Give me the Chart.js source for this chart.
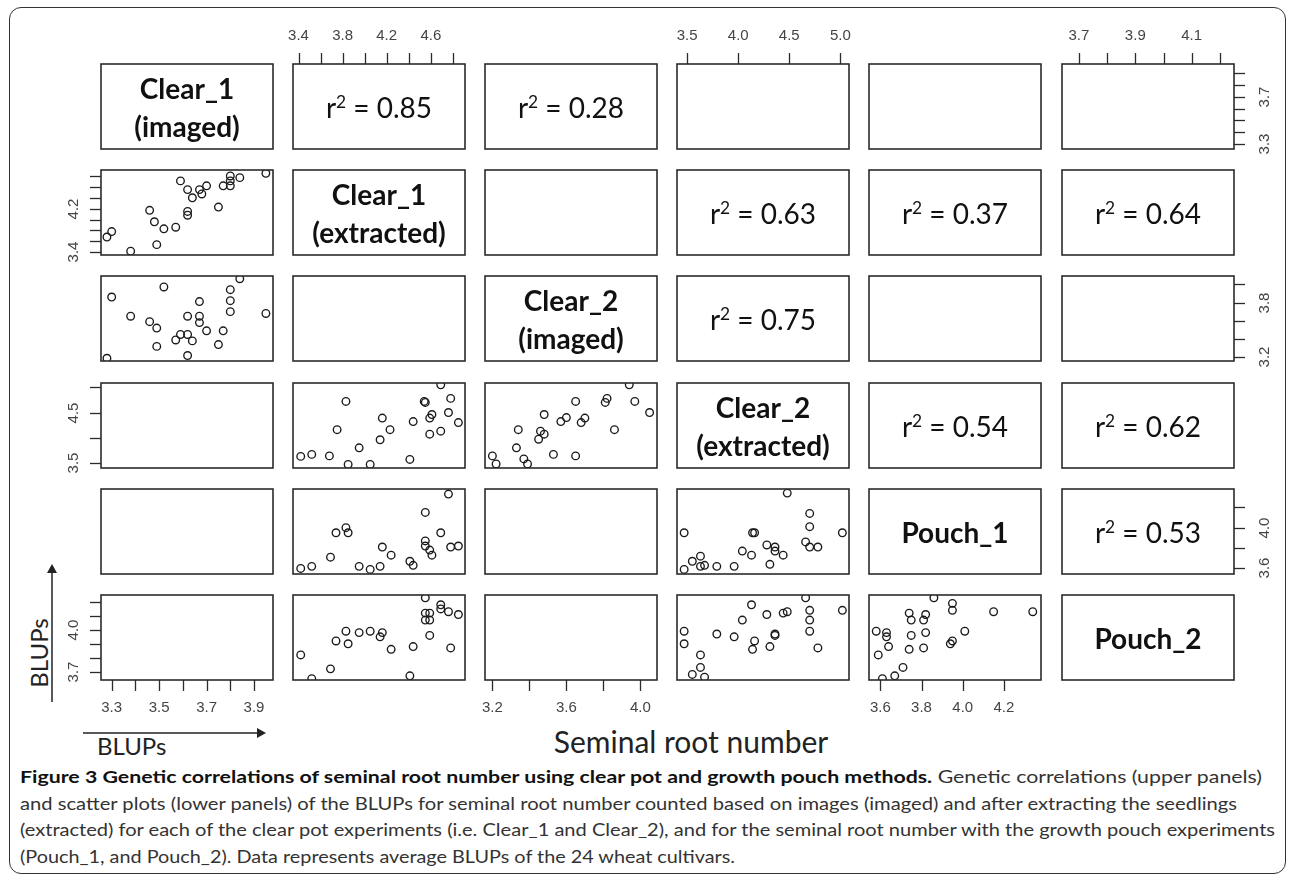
<!DOCTYPE html>
<html>
<head>
<meta charset="utf-8">
<script src="https://cdn.jsdelivr.net/npm/chart.js@4.4.1/dist/chart.umd.min.js"></script>
<style>
  body { margin: 0; background: #fff; }
  #fig { position: relative; width: 1295px; height: 880px; overflow: hidden; font-family: Lato, "Open Sans", sans-serif; }
  .frame { position: absolute; left: 9px; top: 7px; width: 1277px; height: 867px; border: 1.5px solid #333; border-radius: 12px; box-sizing: border-box; }
  canvas { position: absolute; }
  .cell { position: absolute; display: flex; align-items: center; justify-content: center; text-align: center; color: #111; }
  .diag { font-weight: 700; font-size: 28px; line-height: 38px; }
  .r2 { font-size: 28px; }
  .r2 sup { font-size: 0.62em; vertical-align: 0.6em; line-height: 0; }
  .tick { position: absolute; font-family: "Liberation Sans", Arial, sans-serif; font-size: 15px; color: #444; white-space: nowrap; }
  .title { position: absolute; color: #222; white-space: nowrap; }
  .cap { position: absolute; left: 20px; font-size: 17px; color: #333; white-space: nowrap; transform-origin: 0 50%; }
  .cap b { color: #111; }
</style>
</head>
<body>
<div id="fig">
  <div class="frame"></div>
  <svg width="1295" height="880" style="position:absolute;left:0;top:0">
    <line x1="83" y1="733" x2="259" y2="733" stroke="#222" stroke-width="1.5"/>
    <polygon points="266,733 257,728 257,738" fill="#222"/>
    <line x1="52" y1="702" x2="52" y2="572" stroke="#222" stroke-width="1.5"/>
    <polygon points="52,564 47,573 57,573" fill="#222"/>
  </svg>
  <div class="title" style="left:97px;top:731px;font-size:24px">BLUPs</div>
  <div class="title" style="left:38px;top:653px;font-size:24px;transform:translate(-50%,-50%) rotate(-90deg)">BLUPs</div>
  <div class="title" style="left:691px;top:741px;font-size:30px;transform:translate(-50%,-50%)">Seminal root number</div>
  <div class="cap" style="top:766px"><b>Figure 3 Genetic correlations of seminal root number using clear pot and growth pouch methods.</b> Genetic correlations (upper panels)</div>
  <div class="cap" style="top:793px">and scatter plots (lower panels) of the BLUPs for seminal root number counted based on images (imaged) and after extracting the seedlings</div>
  <div class="cap" style="top:819px">(extracted) for each of the clear pot experiments (i.e. Clear_1 and Clear_2), and for the seminal root number with the growth pouch experiments</div>
  <div class="cap" style="top:846px">(Pouch_1, and Pouch_2). Data represents average BLUPs of the 24 wheat cultivars.</div>
</div>
<script>
// variables of the pairs plot
const diagLabels = [["Clear_1", "(imaged)"], ["Clear_1", "(extracted)"], ["Clear_2", "(imaged)"], ["Clear_2", "(extracted)"], ["Pouch_1"], ["Pouch_2"]];
const axisMin = [3.255, 3.35, 3.16, 3.40, 3.545, 3.64];
const axisMax = [3.98, 4.91, 4.09, 5.085, 4.38, 4.25];
const tickValues = [
  [3.3, 3.4, 3.5, 3.6, 3.7, 3.8, 3.9],
  [3.4, 3.6, 3.8, 4.0, 4.2, 4.4, 4.6, 4.8],
  [3.2, 3.4, 3.6, 3.8, 4.0],
  [3.5, 4.0, 4.5, 5.0],
  [3.6, 3.8, 4.0, 4.2],
  [3.7, 3.8, 3.9, 4.0, 4.1, 4.2]
];
const horizLabels = [[3.3, 3.5, 3.7, 3.9], [3.4, 3.8, 4.2, 4.6], [3.2, 3.6, 4.0], [3.5, 4.0, 4.5, 5.0], [3.6, 3.8, 4.0, 4.2], [3.7, 3.9, 4.1]];
const vertLabels = [[3.3, 3.7], [3.4, 4.2], [3.2, 3.8], [3.5, 4.5], [3.6, 4.0], [3.7, 4.0]];

// genetic correlations, upper panels ("row,col")
const r2Values = { "0,1": "0.85", "0,2": "0.28", "1,3": "0.63", "1,4": "0.37", "1,5": "0.64", "2,3": "0.75", "3,4": "0.54", "3,5": "0.62", "4,5": "0.53" };

// scatter points [x, y], lower panels
const c1ExtVsC1Img = [[3.28,3.68],[3.30,3.78],[3.38,3.42],[3.46,4.17],[3.48,3.96],[3.49,3.54],[3.52,3.83],[3.57,3.86],[3.59,4.71],[3.62,4.55],[3.62,4.15],[3.62,4.08],[3.64,4.40],[3.67,4.55],[3.68,4.47],[3.70,4.62],[3.75,4.23],[3.77,4.62],[3.80,4.80],[3.80,4.71],[3.80,4.62],[3.84,4.77],[3.95,4.85]];
const c2ImgVsC1Img = [[3.28,3.19],[3.30,3.86],[3.38,3.65],[3.46,3.59],[3.49,3.52],[3.49,3.32],[3.52,3.97],[3.57,3.39],[3.59,3.45],[3.62,3.65],[3.62,3.45],[3.62,3.22],[3.64,3.38],[3.67,3.81],[3.67,3.65],[3.67,3.58],[3.70,3.49],[3.75,3.34],[3.77,3.49],[3.80,3.94],[3.80,3.82],[3.80,3.70],[3.84,4.06],[3.95,3.68]];
const c2ExtVsC1Ext = [[3.42,3.63],[3.52,3.67],[3.68,3.64],[3.85,3.47],[4.05,3.47],[3.95,3.80],[3.75,4.16],[3.83,4.72],[4.14,3.96],[4.16,4.39],[4.23,4.16],[4.41,3.57],[4.44,4.32],[4.54,4.72],[4.55,4.70],[4.59,4.07],[4.61,4.46],[4.59,4.39],[4.69,5.05],[4.69,4.13],[4.76,4.50],[4.78,4.78],[4.85,4.30]];
const c2ExtVsC2Img = [[3.20,3.64],[3.22,3.48],[3.33,3.80],[3.34,4.16],[3.37,3.58],[3.39,3.48],[3.45,3.97],[3.46,4.13],[3.48,4.07],[3.48,4.46],[3.53,3.67],[3.57,4.32],[3.60,4.40],[3.65,4.72],[3.65,3.64],[3.68,4.30],[3.70,4.39],[3.81,4.70],[3.82,4.78],[3.86,4.16],[3.94,5.05],[3.97,4.72],[4.05,4.50]];
const p1VsC1Ext = [[3.42,3.60],[3.52,3.62],[3.69,3.71],[3.74,3.95],[3.83,4.00],[3.85,3.95],[3.95,3.62],[4.05,3.59],[4.14,3.62],[4.16,3.81],[4.24,3.73],[4.41,3.67],[4.44,3.63],[4.55,4.15],[4.55,3.87],[4.55,3.82],[4.59,3.78],[4.61,3.73],[4.69,3.95],[4.76,4.33],[4.78,3.81],[4.85,3.82]];
const p1VsC2Ext = [[3.47,3.95],[3.47,3.59],[3.55,3.67],[3.63,3.72],[3.63,3.62],[3.67,3.63],[3.79,3.62],[3.96,3.62],[4.04,3.77],[4.13,3.73],[4.14,3.95],[4.16,3.95],[4.28,3.83],[4.31,3.64],[4.36,3.81],[4.36,3.77],[4.44,3.73],[4.48,4.34],[4.66,3.86],[4.70,4.14],[4.70,4.01],[4.70,3.81],[4.78,3.81],[5.02,3.95]];
const p2VsC1Ext = [[3.42,3.82],[3.52,3.65],[3.69,3.72],[3.74,3.92],[3.85,3.90],[3.83,3.99],[3.95,3.98],[4.05,3.99],[4.14,3.95],[4.16,3.98],[4.24,3.86],[4.41,3.67],[4.44,3.88],[4.55,4.23],[4.55,4.12],[4.55,4.07],[4.59,4.07],[4.59,4.12],[4.59,3.96],[4.69,4.18],[4.69,4.15],[4.76,4.13],[4.78,3.87],[4.85,4.11]];
const p2VsC2Ext = [[3.47,3.99],[3.47,3.90],[3.55,3.68],[3.63,3.82],[3.63,3.73],[3.67,3.66],[3.79,3.97],[3.96,3.95],[4.04,4.07],[4.13,4.18],[4.14,3.86],[4.16,3.92],[4.28,4.11],[4.31,3.88],[4.36,3.97],[4.36,3.96],[4.44,4.12],[4.48,4.13],[4.66,4.23],[4.70,4.14],[4.70,4.07],[4.70,3.99],[4.78,3.87],[5.02,4.14]];
const p2VsP1 = [[3.58,3.99],[3.59,3.82],[3.61,3.65],[3.63,3.98],[3.63,3.95],[3.64,3.88],[3.67,3.67],[3.71,3.73],[3.74,4.12],[3.74,3.86],[3.75,4.07],[3.75,3.96],[3.81,3.87],[3.81,4.07],[3.82,3.98],[3.82,4.11],[3.86,4.23],[3.94,3.90],[3.95,3.92],[3.95,4.19],[3.95,4.14],[4.01,3.99],[4.15,4.13],[4.34,4.13]];

const scatterPanels = {
  "1,0": c1ExtVsC1Img, "2,0": c2ImgVsC1Img,
  "3,1": c2ExtVsC1Ext, "3,2": c2ExtVsC2Img,
  "4,1": p1VsC1Ext, "4,3": p1VsC2Ext,
  "5,1": p2VsC1Ext, "5,3": p2VsC2Ext, "5,4": p2VsP1
};

// panel layout
const colLeft = [101, 293, 485, 677, 869, 1062];
const rowTop = [64, 170, 276, 383, 489, 595];
const PW = 172, PH = 85, M = 40, TICK = 11;

const fig = document.getElementById("fig");

const panelBox = {
  id: "panelBox",
  afterDraw(chart, args, opts) {
    const { ctx, chartArea: a } = chart;
    ctx.save();
    ctx.strokeStyle = "#2b2b2b";
    ctx.lineWidth = 1.6;
    ctx.strokeRect(a.left, a.top, a.right - a.left, a.bottom - a.top);
    ctx.lineWidth = 1.3;
    (opts.axes || []).forEach((ax) => {
      const horiz = ax.side === "top" || ax.side === "bottom";
      const scale = horiz ? chart.scales.x : chart.scales.y;
      ax.values.forEach((v) => {
        const p = Math.round(scale.getPixelForValue(v)) + 0.5;
        ctx.beginPath();
        if (ax.side === "top") { ctx.moveTo(p, a.top); ctx.lineTo(p, a.top - TICK); }
        if (ax.side === "bottom") { ctx.moveTo(p, a.bottom); ctx.lineTo(p, a.bottom + TICK); }
        if (ax.side === "left") { ctx.moveTo(a.left, p); ctx.lineTo(a.left - TICK, p); }
        if (ax.side === "right") { ctx.moveTo(a.right, p); ctx.lineTo(a.right + TICK, p); }
        ctx.stroke();
      });
    });
    ctx.restore();
  },
};

function addLabel(text, x, y, vertical) {
  const d = document.createElement("div");
  d.className = "tick";
  d.textContent = text;
  d.style.left = x + "px";
  d.style.top = y + "px";
  d.style.transform = vertical ? "translate(-50%,-50%) rotate(-90deg)" : "translate(-50%,-50%)";
  fig.appendChild(d);
}

for (let r = 0; r < 6; r++) {
  for (let c = 0; c < 6; c++) {
    const x0 = colLeft[c], y0 = rowTop[r];
    const axes = [];
    if (r === 0 && c % 2 === 1) axes.push({ side: "top", values: tickValues[c], labels: horizLabels[c] });
    if (r === 5 && c % 2 === 0) axes.push({ side: "bottom", values: tickValues[c], labels: horizLabels[c] });
    if (c === 0 && r % 2 === 1) axes.push({ side: "left", values: tickValues[r], labels: vertLabels[r] });
    if (c === 5 && r % 2 === 0) axes.push({ side: "right", values: tickValues[r], labels: vertLabels[r] });

    const cv = document.createElement("canvas");
    cv.width = PW + 2 * M;
    cv.height = PH + 2 * M;
    cv.style.left = x0 - M + "px";
    cv.style.top = y0 - M + "px";
    fig.appendChild(cv);

    const pts = scatterPanels[r + "," + c] || [];
    const chart = new Chart(cv, {
      type: "scatter",
      data: {
        datasets: [{
          data: pts.map((p) => ({ x: p[0], y: p[1] })),
          pointStyle: "circle",
          pointRadius: 3.8,
          borderWidth: 1.35,
          borderColor: "#1a1a1a",
          backgroundColor: "rgba(0,0,0,0)",
          clip: 0,
        }],
      },
      options: {
        responsive: false,
        animation: false,
        events: [],
        layout: { padding: M },
        plugins: { legend: { display: false }, tooltip: { enabled: false }, panelBox: { axes } },
        scales: {
          x: { type: "linear", display: false, min: axisMin[c], max: axisMax[c] },
          y: { type: "linear", display: false, min: axisMin[r], max: axisMax[r] },
        },
      },
      plugins: [panelBox],
    });

    axes.forEach((ax) => {
      ax.labels.forEach((v) => {
        const t = v.toFixed(1);
        if (ax.side === "top") addLabel(t, x0 - M + chart.scales.x.getPixelForValue(v), y0 - 30, false);
        if (ax.side === "bottom") addLabel(t, x0 - M + chart.scales.x.getPixelForValue(v), y0 + PH + 26, false);
        if (ax.side === "left") addLabel(t, x0 - 29, y0 - M + chart.scales.y.getPixelForValue(v), true);
        if (ax.side === "right") addLabel(t, x0 + PW + 29, y0 - M + chart.scales.y.getPixelForValue(v), true);
      });
    });

    const key = r + "," + c;
    if (r === c || r2Values[key]) {
      const cell = document.createElement("div");
      cell.className = "cell " + (r === c ? "diag" : "r2");
      cell.style.left = x0 + "px";
      cell.style.top = y0 + "px";
      cell.style.width = PW + "px";
      cell.style.height = PH + "px";
      if (r === c) cell.innerHTML = "<span>" + diagLabels[r].join("<br>") + "</span>";
      else cell.innerHTML = "<span>r<sup>2</sup> = " + r2Values[key] + "</span>";
      fig.appendChild(cell);
    }
  }
}

// squeeze the caption lines to the widths of the original layout
const capWidths = [1242, 1217, 1255, 715];
document.querySelectorAll(".cap").forEach((el, i) => {
  const w = el.getBoundingClientRect().width;
  el.style.transform = "scaleX(" + (capWidths[i] / w).toFixed(4) + ")";
});
</script>
</body>
</html>
